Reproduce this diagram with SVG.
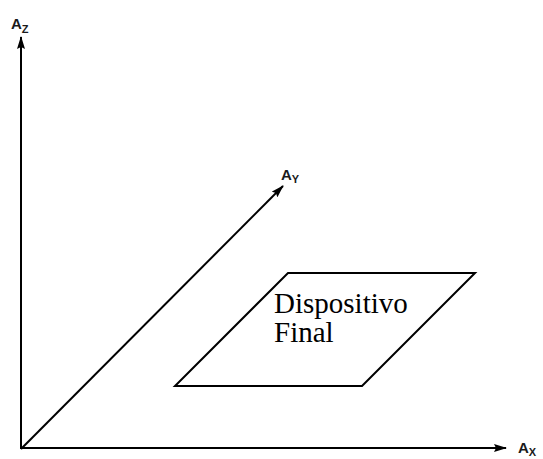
<svg xmlns="http://www.w3.org/2000/svg" width="543" height="459" viewBox="0 0 543 459">
<style>
.ax{stroke:#000;stroke-width:2;fill:none}
.lbl{font-family:"Liberation Sans",Arial,sans-serif;font-weight:bold;fill:#1a1a1a}
.big{font-size:15px}
.sub{font-size:11px}
.node{font-family:"Liberation Serif","Times New Roman",serif;font-size:29px;fill:#000}
</style>
<defs>
<marker id="ah" markerWidth="13" markerHeight="8" refX="12" refY="4" orient="auto" markerUnits="userSpaceOnUse">
<path d="M0,0 L13,4 L0,8 L2,4 Z" fill="#000"/>
</marker>
</defs>
<g id="connectors">
<line class="ax" x1="21" y1="449" x2="21" y2="37" marker-end="url(#ah)"/>
<line class="ax" x1="21" y1="449" x2="283" y2="186" marker-end="url(#ah)"/>
<line class="ax" x1="20" y1="448" x2="506" y2="448" marker-end="url(#ah)"/>
</g>
<g id="label-az"><text class="lbl" x="11" y="29"><tspan class="big">A</tspan><tspan class="sub" dy="4">Z</tspan></text></g>
<g id="label-ay"><text class="lbl" x="281" y="180"><tspan class="big">A</tspan><tspan class="sub" dy="3">Y</tspan></text></g>
<g id="label-ax"><text class="lbl" x="518" y="453"><tspan class="big">A</tspan><tspan class="sub" dy="3">X</tspan></text></g>
<g id="dispositivo-final">
<polygon points="288,273 475,273 362,386 175,386" fill="#fff" stroke="#000" stroke-width="2"/>
<text class="node" x="274" y="313">Dispositivo</text>
<text class="node" x="274" y="342">Final</text>
</g>
</svg>
